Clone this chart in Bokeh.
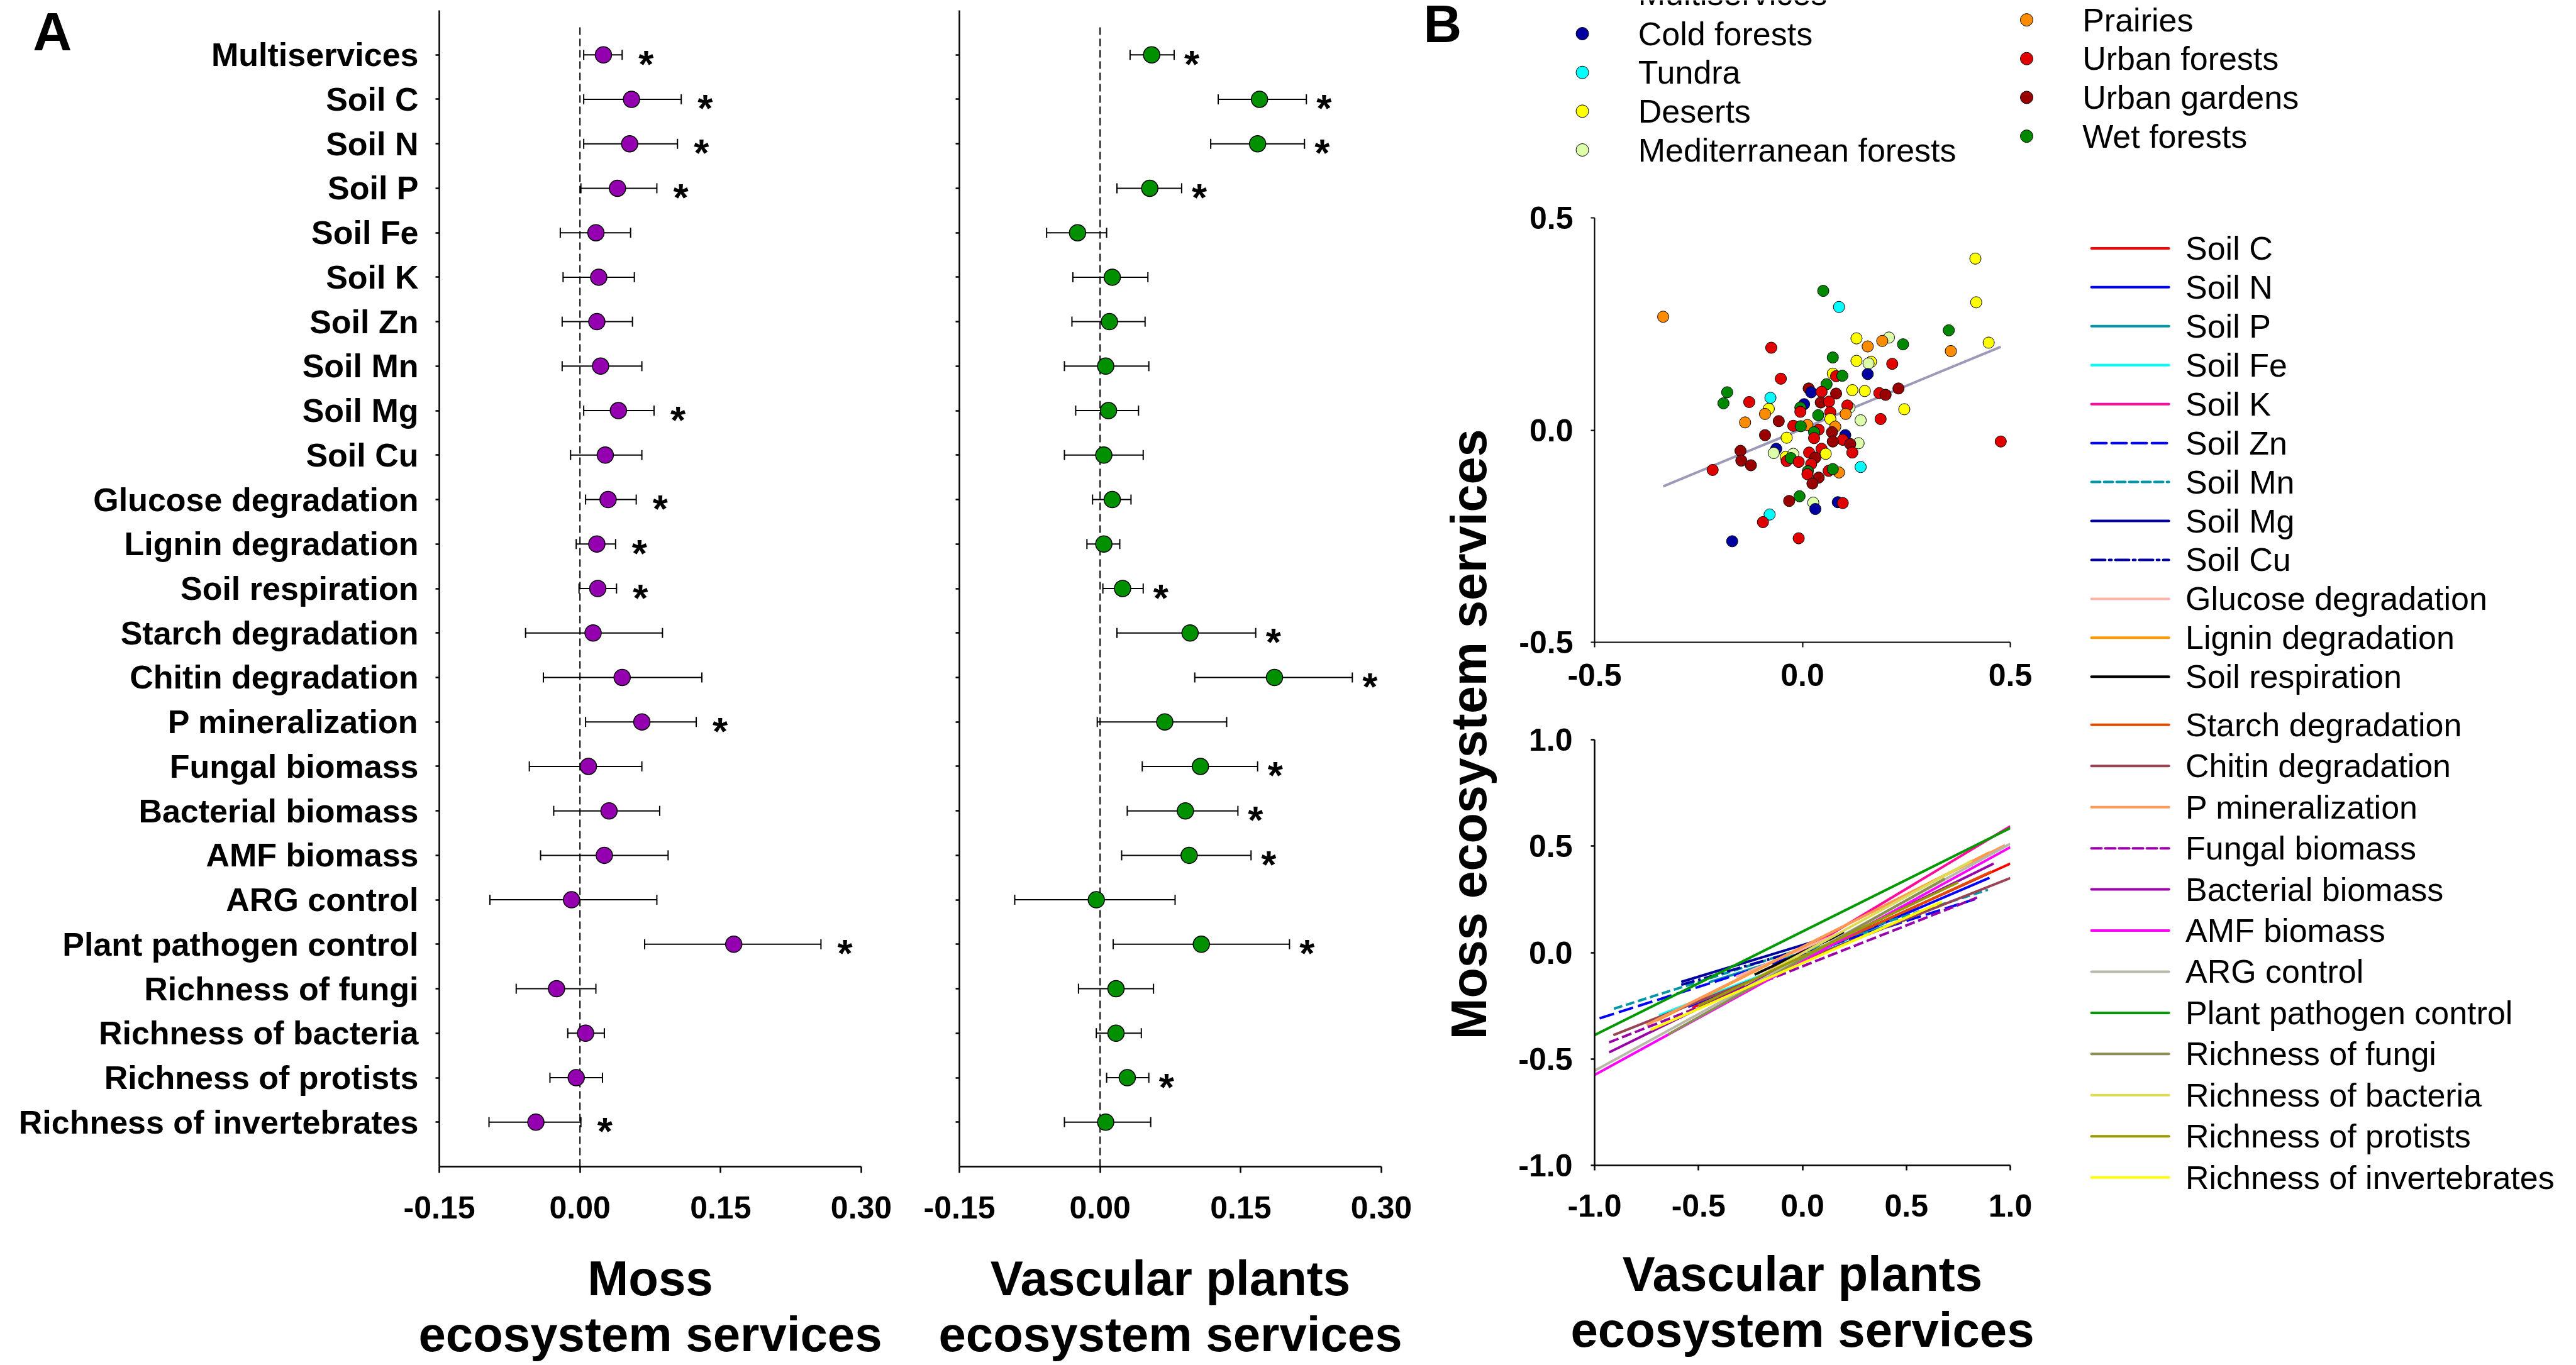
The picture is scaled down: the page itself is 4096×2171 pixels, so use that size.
import math
from bokeh.plotting import figure
from bokeh.models import (Range1d, FixedTicker, NumeralTickFormatter, Whisker, TeeHead,
                          ColumnDataSource)
from bokeh.layouts import row, column
from bokeh.core.properties import value
from bokeh.embed import file_html
from bokeh.resources import INLINE

S = 0.821            # reference px -> page px
FONT = "Liberation Sans"

# ---------------- Panel A data ----------------
categories = ["Multiservices", "Soil C", "Soil N", "Soil P", "Soil Fe", "Soil K", "Soil Zn",
              "Soil Mn", "Soil Mg", "Soil Cu", "Glucose degradation", "Lignin degradation",
              "Soil respiration", "Starch degradation", "Chitin degradation", "P mineralization",
              "Fungal biomass", "Bacterial biomass", "AMF biomass", "ARG control",
              "Plant pathogen control", "Richness of fungi", "Richness of bacteria",
              "Richness of protists", "Richness of invertebrates"]

moss_est = [0.025, 0.055, 0.053, 0.040, 0.017, 0.020, 0.018, 0.022, 0.041, 0.027, 0.030, 0.018,
            0.019, 0.014, 0.045, 0.066, 0.009, 0.031, 0.026, -0.009, 0.164, -0.025, 0.006,
            -0.004, -0.047]
moss_lo = [0.004, 0.004, 0.004, 0.001, -0.021, -0.018, -0.019, -0.019, 0.004, -0.010, 0.006,
           -0.004, -0.001, -0.058, -0.039, 0.006, -0.054, -0.028, -0.042, -0.096, 0.069,
           -0.068, -0.013, -0.032, -0.097]
moss_hi = [0.045, 0.108, 0.104, 0.082, 0.054, 0.058, 0.056, 0.066, 0.079, 0.066, 0.060, 0.038,
           0.039, 0.088, 0.130, 0.124, 0.066, 0.085, 0.094, 0.082, 0.257, 0.017, 0.026, 0.024,
           0.001]
moss_sig = [1, 1, 1, 1, 0, 0, 0, 0, 1, 0, 1, 1, 1, 0, 0, 1, 0, 0, 0, 0, 1, 0, 0, 0, 1]

vasc_est = [0.055, 0.170, 0.168, 0.053, -0.024, 0.013, 0.010, 0.006, 0.009, 0.004, 0.013, 0.004,
            0.024, 0.096, 0.186, 0.069, 0.107, 0.091, 0.095, -0.004, 0.108, 0.017, 0.017,
            0.029, 0.006]
vasc_lo = [0.032, 0.126, 0.118, 0.018, -0.057, -0.029, -0.030, -0.038, -0.026, -0.038, -0.008,
           -0.014, 0.003, 0.018, 0.101, -0.003, 0.045, 0.029, 0.023, -0.091, 0.014, -0.023,
           -0.004, 0.007, -0.038]
vasc_hi = [0.079, 0.220, 0.218, 0.087, 0.007, 0.051, 0.048, 0.052, 0.041, 0.046, 0.033, 0.021,
           0.046, 0.166, 0.269, 0.135, 0.168, 0.147, 0.161, 0.080, 0.202, 0.057, 0.044, 0.052,
           0.054]
vasc_sig = [1, 1, 1, 1, 0, 0, 0, 0, 0, 0, 0, 0, 1, 1, 1, 0, 1, 1, 1, 0, 1, 0, 0, 1, 0]

forest_ticks = [-0.15, 0.0, 0.15, 0.30]

# ---------------- Panel B data ----------------
biome_names = ["Cold forests", "Tundra", "Deserts", "Mediterranean forests",
               "Prairies", "Urban forests", "Urban gardens", "Wet forests"]
biome_codes = ["CF", "TU", "DE", "ME", "PR", "UF", "UG", "WF"]
biome_colors = ["#0000A0", "#00FFFF", "#FFFF00", "#DDFFAA",
                "#FF8C00", "#E00000", "#990000", "#008800"]

sc_biome = ["PR", "WF", "TU", "DE", "DE", "WF", "DE", "PR", "DE", "ME", "PR", "PR", "WF", "UF",
            "WF", "DE", "DE", "ME", "UF", "CF", "DE", "UF", "WF", "UF", "WF", "UG", "CF", "UF",
            "UG", "DE", "DE", "UF", "UG", "UG", "WF", "WF", "UF", "TU", "DE", "PR", "PR", "UG",
            "CF", "WF", "UF", "UG", "UF", "WF", "UF", "DE", "ME", "UF", "PR", "ME", "UF", "DE",
            "UF", "UF", "PR", "WF", "UF", "WF", "UF", "PR", "UG", "CF", "UF", "UG", "ME", "UG",
            "UF", "UG", "DE", "CF", "ME", "UG", "UG", "UG", "UF", "DE", "ME", "UF", "WF", "UF",
            "UF", "UF", "DE", "UG", "UF", "WF", "UF", "UG", "UG", "UF", "PR", "WF", "TU", "UG",
            "WF", "ME", "CF", "CF", "UF", "TU", "UF", "CF", "UF"]
sc_x = [-0.335, 0.050, 0.088, 0.416, 0.418, 0.352, 0.448, 0.357, 0.130, 0.208, 0.192, 0.157,
        0.242, -0.075, 0.073, 0.130, 0.165, 0.159, 0.216, 0.157, 0.073, 0.081, 0.096, -0.052,
        0.058, 0.015, 0.021, 0.046, 0.081, 0.120, 0.150, 0.185, 0.200, 0.231, -0.181, -0.190,
        -0.128, -0.077, -0.081, -0.090, -0.138, -0.057, 0.004, -0.005, -0.005, 0.044, 0.064,
        0.038, 0.067, 0.067, 0.113, 0.108, 0.104, 0.140, 0.188, 0.245, 0.477, -0.022, 0.012,
        -0.004, 0.039, 0.028, 0.028, 0.079, 0.071, 0.103, 0.097, 0.073, 0.135, 0.115, 0.120,
        -0.090, -0.038, -0.063, -0.069, -0.149, -0.147, -0.124, -0.216, -0.040, -0.022, -0.038,
        -0.028, -0.009, 0.016, 0.046, 0.056, 0.031, 0.021, 0.013, 0.012, 0.039, 0.024, 0.063,
        0.088, 0.073, 0.140, -0.032, -0.007, 0.026, 0.031, 0.085, 0.097, -0.079, -0.095,
        -0.169, -0.009]
sc_y = [0.267, 0.328, 0.290, 0.404, 0.301, 0.235, 0.206, 0.186, 0.216, 0.218, 0.210, 0.197,
        0.202, 0.194, 0.171, 0.163, 0.161, 0.157, 0.156, 0.132, 0.133, 0.127, 0.128, 0.121,
        0.108, 0.098, 0.089, 0.090, 0.086, 0.094, 0.092, 0.087, 0.083, 0.098, 0.089, 0.063,
        0.066, 0.076, 0.050, 0.038, 0.018, 0.021, 0.061, 0.053, 0.043, 0.065, 0.067, 0.035,
        0.042, 0.026, 0.053, 0.058, 0.038, 0.023, 0.026, 0.049, -0.027, 0.010, 0.012, 0.009,
        0.001, -0.005, -0.019, 0.008, -0.005, -0.012, -0.023, -0.027, -0.031, -0.033, -0.053,
        -0.012, -0.018, -0.044, -0.054, -0.049, -0.072, -0.083, -0.094, -0.063, -0.056, -0.073,
        -0.066, -0.075, -0.053, -0.044, -0.056, -0.065, -0.080, -0.097, -0.104, -0.112, -0.126,
        -0.096, -0.100, -0.092, -0.087, -0.167, -0.156, -0.171, -0.186, -0.170, -0.172, -0.199,
        -0.217, -0.262, -0.255]
fit_slope = 0.405
fit_intercept = 0.003
scatter_ticks = [-0.5, 0.0, 0.5]

line_names = categories[1:]
line_x0 = [-0.53, -0.55, -0.45, -0.69, -0.30, -0.976, -0.907, -0.583, -0.583, -0.32, -0.70, -0.23,
           -0.49, -0.91, -0.75, -0.93, -0.93, -1.0, -1.0, -1.0, -0.645, -0.28, -0.50, -0.73]
line_y0 = [-0.26, -0.255, -0.14, -0.295, -0.17, -0.309, -0.264, -0.138, -0.152, -0.115, -0.32,
           -0.104, -0.247, -0.388, -0.34, -0.422, -0.469, -0.575, -0.555, -0.388, -0.384,
           -0.152, -0.25, -0.363]
line_x1 = [1.0, 0.90, 0.55, 0.40, 1.0, 0.83, 0.892, 0.06, -0.05, 0.20, 0.90, 0.20, 0.91, 1.0,
           0.975, 0.84, 0.92, 1.0, 1.0, 1.0, 0.685, 0.816, 0.75, 0.671]
line_y1 = [0.418, 0.351, 0.17, 0.12, 0.593, 0.251, 0.295, 0.053, 0.0, 0.10, 0.47, 0.094, 0.381,
           0.35, 0.504, 0.258, 0.418, 0.495, 0.511, 0.585, 0.347, 0.432, 0.33, 0.238]
line_colors = ["#FF0000", "#0000FF", "#0096A8", "#00FFFF", "#FF0A9C", "#0000FF", "#0096A8",
               "#0000A0", "#0000A0", "#FFB3A8", "#FF9900", "#000000", "#E04A00", "#994455",
               "#FF9955", "#9900AA", "#9900AA", "#FF00FF", "#B8B8A8", "#009900", "#8C8C55",
               "#DDDD55", "#999900", "#FFFF00"]
line_dashes = ["solid", "solid", "solid", "solid", "solid", "24 8", "14 6", "solid", "22 6 4 6",
               "solid", "solid", "solid", "solid", "solid", "solid", "16 6", "solid", "solid",
               "solid", "solid", "solid", "solid", "solid", "solid"]
lines_ticks = [-1.0, -0.5, 0.0, 0.5, 1.0]

# ---------------- helpers ----------------
H = 2171


def style_axes(p, lw, tick_out_x, tick_out_y, xstand, ystand):
    for ax in (p.xaxis[0], p.yaxis[0]):
        ax.axis_line_width = lw
        ax.axis_line_color = "black"
        ax.major_tick_line_width = lw
        ax.major_tick_line_color = "black"
        ax.major_tick_in = 0
        ax.minor_tick_line_color = None
        ax.major_label_text_font = FONT
        ax.major_label_text_font_style = "bold"
        ax.major_label_text_font_size = "50px"
        ax.major_label_text_color = "black"
        ax.axis_label_text_font = FONT
        ax.axis_label_text_font_style = "bold"
        ax.axis_label_text_font_size = "78px"
        ax.axis_label_text_color = "black"
        ax.axis_label_text_line_height = 1.02
    p.xaxis[0].major_tick_out = tick_out_x
    p.yaxis[0].major_tick_out = tick_out_y
    p.xaxis[0].major_label_standoff = xstand
    p.yaxis[0].major_label_standoff = ystand
    p.xgrid.grid_line_color = None
    p.ygrid.grid_line_color = None
    p.outline_line_color = None


def forest(est, lo, hi, sig, fill, width, left, right, show_labels, ast_dx, title, letter):
    n = len(categories)
    top, bottom = 16, 316
    p = figure(width=width, height=H, x_range=Range1d(-0.15, 0.30), y_range=Range1d(0, n + 1),
               output_backend="svg", toolbar_location=None, title=None,
               min_border_left=left, min_border_right=right,
               min_border_top=top, min_border_bottom=bottom)
    style_axes(p, 2.5, 10, 6, 37, 27)
    ypos = [n - i for i in range(n)]
    p.xaxis[0].ticker = FixedTicker(ticks=forest_ticks)
    p.xaxis[0].formatter = NumeralTickFormatter(format="0.00")
    p.xaxis[0].axis_label = title
    p.xaxis[0].axis_label_standoff = 48
    p.yaxis[0].ticker = FixedTicker(ticks=ypos)
    p.yaxis[0].major_label_overrides = {ypos[i]: (categories[i] if show_labels else "")
                                        for i in range(n)}
    p.yaxis[0].major_label_text_font_size = "52px"

    src = ColumnDataSource(dict(y=ypos, est=est, lo=lo, hi=hi))
    p.segment(x0=[0], y0=[0], x1=[0], y1=[n + 0.7], line_color="black", line_width=2,
              line_dash="12 6")
    w = Whisker(source=src, base="y", lower="lo", upper="hi", dimension="width",
                line_color="black", line_width=2, level="underlay")
    w.upper_head = TeeHead(size=16, line_width=2, line_color="black")
    w.lower_head = TeeHead(size=16, line_width=2, line_color="black")
    p.add_layout(w)
    p.scatter("est", "y", source=src, size=26, fill_color=fill, line_color="black",
              line_width=1.5)

    s_idx = [i for i in range(n) if sig[i]]
    ssrc = ColumnDataSource(dict(x=[hi[i] for i in s_idx], y=[ypos[i] for i in s_idx],
                                 t=["*"] * len(s_idx)))
    p.text("x", "y", text="t", source=ssrc, text_font=value(FONT), text_font_style="bold",
           text_font_size="62px", text_align="left", text_baseline="alphabetic",
           x_offset=ast_dx, y_offset=14, text_color="black")

    if letter:
        frame_h = H - top - bottom
        py = frame_h / (n + 1)
        px = (width - left - right) / 0.45
        lx = -0.15 + (63 * S - left) / px
        ly = (n + 1) - ((60.5 * S) - top) / py
        p.text(x=[lx], y=[ly], text=[letter], text_font=value(FONT), text_font_style="bold",
               text_font_size="86px", text_align="left", text_baseline="alphabetic",
               level="overlay")
    return p


moss = forest(moss_est, moss_lo, moss_hi, moss_sig, "#9400B0", 1448, 698, 79, True, 26,
              "Moss\necosystem services", "A")
vasc = forest(vasc_est, vasc_lo, vasc_hi, vasc_sig, "#009000", 815, 77, 67, False, 16,
              "Vascular plants\necosystem services", None)


def blank(width, height, xr, yr):
    p = figure(width=width, height=height, x_range=Range1d(*xr), y_range=Range1d(*yr),
               x_axis_type=None, y_axis_type=None, output_backend="svg",
               toolbar_location=None, title=None, min_border_left=0, min_border_right=0,
               min_border_top=0, min_border_bottom=0)
    p.outline_line_color = None
    return p


# ---- top of panel B: letter + biome legend (page coordinates) ----
btop = blank(1833, 300, (2263, 4096), (300, 0))
btop.text(x=[2263], y=[45.1 * S], text=["B"], text_font=value(FONT), text_font_style="bold",
          text_font_size="84px", text_baseline="alphabetic")
btop.text(x=[3172 * S], y=[8.2 - 0.358 * 52], text=["Multiservices"], text_font=value(FONT),
          text_font_size="52px", text_baseline="alphabetic")
leg_x = [(3064 if i < 4 else 3924.5) * S for i in range(len(biome_names))]
leg_y = [((64.6 if i < 4 else 37.9) + 75.1 * (i % 4)) * S for i in range(len(biome_names))]
btop.scatter(leg_x, leg_y, size=20, fill_color=biome_colors, line_color="black", line_width=1)
btop.text(x=[x + 108 * S for x in leg_x], y=leg_y, text=biome_names,
          text_font=value(FONT), text_font_size="52px", text_baseline="alphabetic")

# ---- y title of panel B ----
ytit = blank(130, 1871, (2263, 2393), (2171, 300))
ytit.text(x=[2335], y=[1422 * S], text=["Moss ecosystem services"], angle=math.pi / 2,
          text_font=value(FONT), text_font_style="bold", text_font_size="79px",
          text_align="center", text_baseline="alphabetic")

# ---- scatter ----
cmap = dict(zip(biome_codes, biome_colors))
sc = figure(width=865, height=830, x_range=Range1d(-0.5, 0.5), y_range=Range1d(-0.5, 0.5),
            output_backend="svg", toolbar_location=None, title=None,
            min_border_left=142, min_border_right=52, min_border_top=46, min_border_bottom=109)
style_axes(sc, 2, 8, 6, 26, 28)
sc.xaxis[0].ticker = FixedTicker(ticks=scatter_ticks)
sc.yaxis[0].ticker = FixedTicker(ticks=scatter_ticks)
sc.xaxis[0].formatter = NumeralTickFormatter(format="0.0")
sc.yaxis[0].formatter = NumeralTickFormatter(format="0.0")
fx = [min(sc_x), max(sc_x)]
sc.line(fx, [fit_intercept + fit_slope * v for v in fx], line_color="#9C9AB8", line_width=4)
sc.scatter(sc_x, sc_y, size=18, fill_color=[cmap[b] for b in sc_biome], line_color="black",
           line_width=1)

# ---- regression lines ----
ln = figure(width=865, height=1041, x_range=Range1d(-1, 1), y_range=Range1d(-1, 1),
            output_backend="svg", toolbar_location=None, title=None,
            min_border_left=134, min_border_right=62, min_border_top=46, min_border_bottom=318)
style_axes(ln, 2.5, 8, 6, 38, 29)
ln.xaxis[0].ticker = FixedTicker(ticks=lines_ticks)
ln.yaxis[0].ticker = FixedTicker(ticks=lines_ticks)
ln.xaxis[0].formatter = NumeralTickFormatter(format="0.0")
ln.yaxis[0].formatter = NumeralTickFormatter(format="0.0")
ln.xaxis[0].axis_label = "Vascular plants\necosystem services"
ln.xaxis[0].axis_label_standoff = 44
for i in range(len(line_names)):
    ln.line([line_x0[i], line_x1[i]], [line_y0[i], line_y1[i]], line_color=line_colors[i],
            line_width=4, line_dash=line_dashes[i])

# ---- line legend ----
lleg = blank(838, 1871, (3258, 4096), (2171, 300))
ly = [(480.4 + 75.45 * i if i < 12 else 1403.6 + 79.7 * (i - 12)) * S
      for i in range(len(line_names))]
for i in range(len(line_names)):
    lleg.line([4050 * S, 4200 * S], [ly[i], ly[i]], line_color=line_colors[i], line_width=4,
              line_dash=line_dashes[i], line_cap="round")
lleg.text(x=[4232 * S] * len(line_names), y=ly, text=line_names,
          text_font=value(FONT), text_font_size="52px", text_baseline="alphabetic")

layout = row(moss, vasc, column(btop, row(ytit, column(sc, ln), lleg)))

open("out.html", "w").write(file_html(layout, INLINE))
